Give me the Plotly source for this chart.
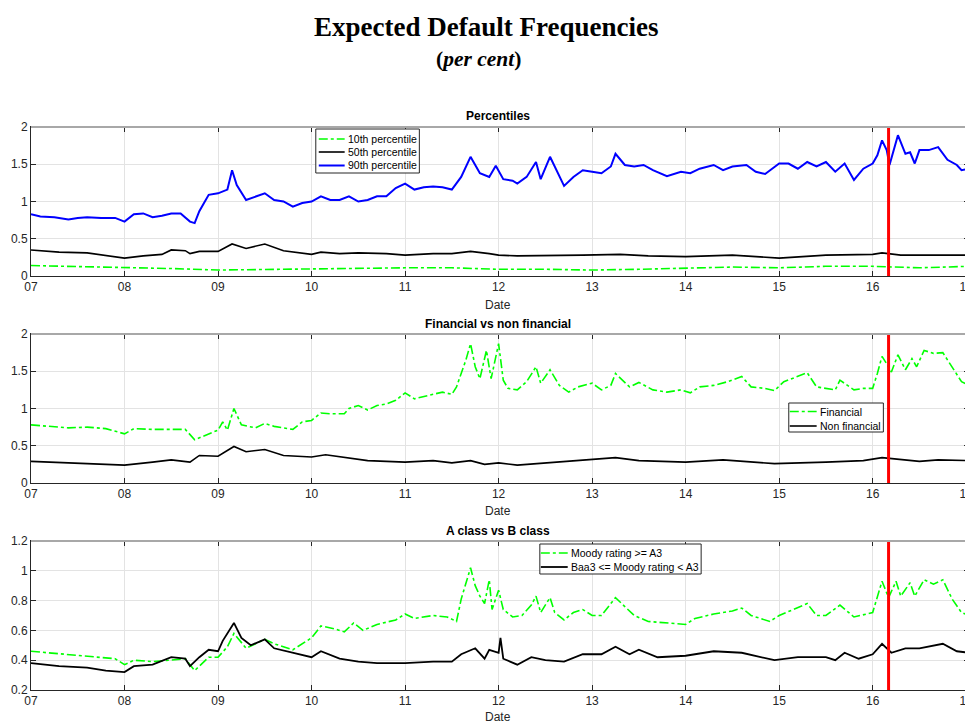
import plotly.graph_objects as go

# ---------------- data (decimal years, values in per cent) ----------------
YEAR_TICKS = [2007, 2008, 2009, 2010, 2011, 2012, 2013, 2014, 2015, 2016, 2017]
YEAR_LABELS = ["07", "08", "09", "10", "11", "12", "13", "14", "15", "16", "17"]
EVENT_DATE = 2016.17

p90_x = [2007.0, 2007.1, 2007.25, 2007.4, 2007.5, 2007.6, 2007.75, 2007.9, 2008.0, 2008.1,
         2008.2, 2008.3, 2008.4, 2008.5, 2008.6, 2008.7, 2008.75, 2008.8, 2008.85, 2008.9,
         2009.0, 2009.1, 2009.15, 2009.2, 2009.3, 2009.4, 2009.5, 2009.6, 2009.7, 2009.8,
         2009.9, 2010.0, 2010.1, 2010.2, 2010.3, 2010.4, 2010.5, 2010.6, 2010.7, 2010.8,
         2010.9, 2011.0, 2011.1, 2011.2, 2011.3, 2011.4, 2011.5, 2011.6, 2011.7, 2011.75,
         2011.8, 2011.9, 2011.97, 2012.05, 2012.15, 2012.2, 2012.3, 2012.4, 2012.45, 2012.55,
         2012.65, 2012.7, 2012.8, 2012.9, 2013.0, 2013.1, 2013.2, 2013.25, 2013.35, 2013.45,
         2013.55, 2013.65, 2013.8, 2013.95, 2014.05, 2014.15, 2014.3, 2014.4, 2014.5, 2014.65,
         2014.75, 2014.85, 2015.0, 2015.1, 2015.2, 2015.3, 2015.4, 2015.5, 2015.6, 2015.7,
         2015.8, 2015.9, 2016.0, 2016.05, 2016.1, 2016.15, 2016.18, 2016.22, 2016.27, 2016.35,
         2016.4, 2016.45, 2016.5, 2016.6, 2016.7, 2016.8, 2016.9, 2016.95, 2017.03]
p90_y = [0.83, 0.80, 0.79, 0.76, 0.78, 0.79, 0.78, 0.78, 0.73, 0.83,
         0.84, 0.79, 0.81, 0.84, 0.84, 0.73, 0.71, 0.87, 0.98, 1.09,
         1.11, 1.16, 1.42, 1.22, 1.02, 1.07, 1.11, 1.02, 1.00, 0.93,
         0.98, 1.00, 1.07, 1.02, 1.02, 1.07, 1.00, 1.02, 1.07, 1.07,
         1.18, 1.24, 1.16, 1.19, 1.20, 1.19, 1.16, 1.33, 1.60, 1.49,
         1.38, 1.33, 1.48, 1.30, 1.28, 1.24, 1.33, 1.53, 1.30, 1.60,
         1.33, 1.21, 1.33, 1.42, 1.40, 1.38, 1.47, 1.64, 1.49, 1.47,
         1.49, 1.42, 1.34, 1.40, 1.38, 1.44, 1.49, 1.42, 1.47, 1.49,
         1.40, 1.37, 1.51, 1.51, 1.44, 1.53, 1.47, 1.53, 1.40, 1.51,
         1.29, 1.44, 1.51, 1.62, 1.82, 1.69, 1.49, 1.66, 1.89, 1.64,
         1.66, 1.51, 1.69, 1.69, 1.73, 1.56, 1.49, 1.42, 1.44]

p50_x = [2007.0, 2007.3, 2007.6, 2007.8, 2008.0, 2008.2, 2008.4, 2008.5, 2008.65, 2008.7,
         2008.8, 2009.0, 2009.15, 2009.3, 2009.5, 2009.7, 2009.9, 2010.0, 2010.1, 2010.3,
         2010.5, 2010.8, 2011.0, 2011.3, 2011.5, 2011.7, 2011.9, 2012.0, 2012.2, 2012.5,
         2012.9, 2013.3, 2013.6, 2014.0, 2014.5, 2015.0, 2015.5, 2016.0, 2016.1, 2016.3,
         2016.6, 2016.8, 2017.03]
p50_y = [0.35, 0.32, 0.31, 0.28, 0.24, 0.27, 0.29, 0.35, 0.34, 0.30,
         0.33, 0.33, 0.43, 0.37, 0.43, 0.34, 0.30, 0.29, 0.32, 0.30,
         0.31, 0.30, 0.28, 0.30, 0.30, 0.33, 0.30, 0.28, 0.27, 0.27,
         0.28, 0.29, 0.27, 0.26, 0.28, 0.24, 0.28, 0.29, 0.31, 0.28,
         0.28, 0.29, 0.28]

p10_x = [2007.0, 2007.5, 2008.0, 2008.5, 2009.0, 2009.5, 2010.0, 2010.5, 2011.0, 2011.5,
         2012.0, 2012.5, 2013.0, 2013.5, 2014.0, 2014.5, 2015.0, 2015.5, 2016.0, 2016.5,
         2017.03]
p10_y = [0.14, 0.13, 0.11, 0.10, 0.08, 0.09, 0.09, 0.10, 0.11, 0.11,
         0.09, 0.09, 0.08, 0.09, 0.10, 0.12, 0.11, 0.13, 0.13, 0.11,
         0.13]

fin_x = [2007.0, 2007.2, 2007.4, 2007.6, 2007.8, 2008.0, 2008.1, 2008.3, 2008.5, 2008.65,
         2008.75, 2008.9, 2009.0, 2009.05, 2009.1, 2009.17, 2009.25, 2009.4, 2009.5, 2009.6,
         2009.8, 2009.9, 2010.0, 2010.1, 2010.2, 2010.35, 2010.4, 2010.5, 2010.6, 2010.7,
         2010.8, 2010.9, 2011.0, 2011.1, 2011.2, 2011.3, 2011.4, 2011.5, 2011.55, 2011.65,
         2011.7, 2011.75, 2011.8, 2011.87, 2011.92, 2012.0, 2012.05, 2012.1, 2012.2, 2012.3,
         2012.4, 2012.45, 2012.55, 2012.65, 2012.75, 2012.85, 2013.0, 2013.1, 2013.2, 2013.25,
         2013.4, 2013.5, 2013.65, 2013.8, 2013.95, 2014.05, 2014.15, 2014.3, 2014.45, 2014.6,
         2014.7, 2014.85, 2014.95, 2015.05, 2015.2, 2015.3, 2015.4, 2015.5, 2015.6, 2015.65,
         2015.8, 2015.9, 2016.0, 2016.05, 2016.1, 2016.15, 2016.2, 2016.27, 2016.35, 2016.42,
         2016.47, 2016.55, 2016.65, 2016.75, 2016.85, 2016.95, 2017.03]
fin_y = [0.78, 0.76, 0.74, 0.75, 0.73, 0.66, 0.73, 0.72, 0.72, 0.72,
         0.58, 0.66, 0.71, 0.82, 0.71, 1.00, 0.78, 0.74, 0.80, 0.76,
         0.72, 0.82, 0.84, 0.94, 0.93, 0.93, 1.00, 1.04, 0.98, 1.04,
         1.06, 1.11, 1.21, 1.13, 1.16, 1.18, 1.22, 1.19, 1.29, 1.65,
         1.87, 1.56, 1.40, 1.78, 1.40, 1.87, 1.38, 1.27, 1.25, 1.36,
         1.56, 1.34, 1.52, 1.31, 1.22, 1.29, 1.34, 1.25, 1.31, 1.47,
         1.29, 1.35, 1.25, 1.22, 1.25, 1.21, 1.29, 1.31, 1.36, 1.43,
         1.29, 1.27, 1.24, 1.36, 1.43, 1.48, 1.29, 1.27, 1.25, 1.38,
         1.25, 1.27, 1.27, 1.47, 1.70, 1.60, 1.49, 1.72, 1.52, 1.67,
         1.56, 1.78, 1.74, 1.75, 1.56, 1.36, 1.31]

nonfin_x = [2007.0, 2007.5, 2008.0, 2008.3, 2008.5, 2008.7, 2008.8, 2009.0, 2009.1, 2009.17,
            2009.3, 2009.5, 2009.7, 2010.0, 2010.15, 2010.4, 2010.6, 2011.0, 2011.3, 2011.5,
            2011.7, 2011.85, 2012.0, 2012.2, 2012.5, 2012.9, 2013.25, 2013.5, 2014.0, 2014.4,
            2014.95, 2015.5, 2015.9, 2016.1, 2016.5, 2016.7, 2017.03]
nonfin_y = [0.29, 0.26, 0.24, 0.28, 0.31, 0.28, 0.37, 0.36, 0.44, 0.49,
            0.42, 0.45, 0.37, 0.35, 0.38, 0.34, 0.30, 0.28, 0.30, 0.27,
            0.30, 0.25, 0.27, 0.24, 0.27, 0.30, 0.34, 0.30, 0.28, 0.31,
            0.26, 0.28, 0.30, 0.34, 0.29, 0.31, 0.30]

acls_x = [2007.0, 2007.2, 2007.4, 2007.7, 2007.9, 2008.0, 2008.1, 2008.3, 2008.5, 2008.65,
          2008.75, 2008.9, 2009.0, 2009.1, 2009.17, 2009.3, 2009.5, 2009.6, 2009.8, 2009.9,
          2010.0, 2010.1, 2010.25, 2010.35, 2010.45, 2010.55, 2010.7, 2010.9, 2011.0, 2011.1,
          2011.3, 2011.45, 2011.55, 2011.6, 2011.7, 2011.75, 2011.8, 2011.85, 2011.9, 2011.93,
          2012.0, 2012.05, 2012.15, 2012.25, 2012.35, 2012.4, 2012.45, 2012.55, 2012.6, 2012.7,
          2012.8, 2012.9, 2013.0, 2013.1, 2013.25, 2013.35, 2013.45, 2013.6, 2013.8, 2014.0,
          2014.1, 2014.3, 2014.5, 2014.6, 2014.7, 2014.9, 2015.0, 2015.2, 2015.3, 2015.4,
          2015.5, 2015.65, 2015.8, 2016.0, 2016.1, 2016.17, 2016.25, 2016.3, 2016.4, 2016.45,
          2016.55, 2016.65, 2016.75, 2016.85, 2016.95, 2017.03]
acls_y = [0.46, 0.45, 0.44, 0.42, 0.41, 0.37, 0.40, 0.39, 0.40, 0.41,
          0.33, 0.42, 0.42, 0.49, 0.58, 0.48, 0.54, 0.51, 0.47, 0.51,
          0.55, 0.63, 0.61, 0.59, 0.65, 0.60, 0.64, 0.67, 0.71, 0.68,
          0.70, 0.69, 0.66, 0.81, 1.02, 0.90, 0.83, 0.78, 0.94, 0.74,
          0.87, 0.74, 0.69, 0.70, 0.77, 0.83, 0.72, 0.82, 0.72, 0.67,
          0.72, 0.74, 0.70, 0.70, 0.82, 0.76, 0.70, 0.66, 0.65, 0.64,
          0.68, 0.71, 0.73, 0.75, 0.70, 0.66, 0.70, 0.75, 0.78, 0.70,
          0.70, 0.77, 0.69, 0.72, 0.93, 0.82, 0.93, 0.83, 0.92, 0.83,
          0.94, 0.91, 0.94, 0.81, 0.72, 0.70]

bcls_x = [2007.0, 2007.3, 2007.6, 2007.8, 2008.0, 2008.1, 2008.3, 2008.5, 2008.65, 2008.7,
          2008.8, 2008.9, 2009.0, 2009.05, 2009.17, 2009.25, 2009.35, 2009.5, 2009.6, 2009.8,
          2010.0, 2010.1, 2010.3, 2010.5, 2010.7, 2011.0, 2011.3, 2011.5, 2011.6, 2011.75,
          2011.85, 2011.9, 2012.0, 2012.02, 2012.05, 2012.2, 2012.35, 2012.5, 2012.7, 2012.9,
          2013.1, 2013.25, 2013.4, 2013.5, 2013.7, 2014.0, 2014.3, 2014.6, 2014.8, 2014.95,
          2015.2, 2015.5, 2015.6, 2015.7, 2015.85, 2016.0, 2016.1, 2016.2, 2016.35, 2016.5,
          2016.75, 2016.9, 2017.03]
bcls_y = [0.38, 0.36, 0.35, 0.33, 0.32, 0.36, 0.37, 0.42, 0.41, 0.36,
          0.42, 0.47, 0.46, 0.53, 0.65, 0.55, 0.50, 0.54, 0.48, 0.45,
          0.42, 0.46, 0.41, 0.39, 0.38, 0.38, 0.39, 0.39, 0.44, 0.48,
          0.41, 0.47, 0.45, 0.55, 0.41, 0.37, 0.42, 0.40, 0.39, 0.44,
          0.44, 0.49, 0.44, 0.47, 0.42, 0.43, 0.46, 0.45, 0.42, 0.40,
          0.42, 0.42, 0.40, 0.45, 0.41, 0.44, 0.51, 0.45, 0.48, 0.48,
          0.51, 0.46, 0.45]

# ---------------- figure geometry (page pixels; body has an 8px margin) ----------------
OFF = 8
W, H = 973 - OFF, 723 - OFF
PAGE_LEFT, PAGE_RIGHT, PAGE_TOP, PAGE_BOTTOM = 31, 973, 127, 690
ML = PAGE_LEFT - OFF
MR = 0
MT = PAGE_TOP - OFF
MB = H - (PAGE_BOTTOM - OFF)
PH = PAGE_BOTTOM - PAGE_TOP
PW = PAGE_RIGHT - PAGE_LEFT


def py(pix):
    return (PAGE_BOTTOM - pix) / PH


def px(pix):
    return (pix - PAGE_LEFT) / PW


GREEN = "#00ff00"
BLUE = "#0000ff"
BLACK = "#000000"
FONT = "Liberation Sans, Arial, sans-serif"
TXT = "#262626"

fig = go.Figure()

series = [
    (p10_x, p10_y, "10th percentile", GREEN, "dashdot", 1.6, "x", "y"),
    (p50_x, p50_y, "50th percentile", BLACK, "solid", 1.6, "x", "y"),
    (p90_x, p90_y, "90th percentile", BLUE, "solid", 2.0, "x", "y"),
    (fin_x, fin_y, "Financial", GREEN, "dashdot", 1.6, "x2", "y2"),
    (nonfin_x, nonfin_y, "Non financial", BLACK, "solid", 1.6, "x2", "y2"),
    (acls_x, acls_y, "Moody rating >= A3", GREEN, "dashdot", 1.6, "x3", "y3"),
    (bcls_x, bcls_y, "Baa3 <= Moody rating < A3", BLACK, "solid", 1.8, "x3", "y3"),
]
for xs, ys, name, col, dash, w, xa, ya in series:
    fig.add_trace(go.Scatter(x=xs, y=ys, name=name, mode="lines",
                             line=dict(color=col, dash=dash, width=w),
                             xaxis=xa, yaxis=ya, showlegend=False))

domains = [(py(276), py(127)), (py(483), py(334)), (py(690), py(541))]
yranges = [[0, 2], [0, 2], [0.2, 1.2]]
ydticks = [0.5, 0.5, 0.2]

axis_common = dict(showline=True, linecolor=TXT, linewidth=1, mirror="ticks",
                   ticks="inside", ticklen=5, tickcolor=TXT,
                   showgrid=True, gridcolor="#e3e3e3", gridwidth=1,
                   zeroline=False, tickfont=dict(family=FONT, size=12, color=TXT))

layout = dict(width=W, height=H, margin=dict(l=ML, r=MR, t=MT, b=MB, pad=0),
              paper_bgcolor="white", plot_bgcolor="white", showlegend=False)

for i in range(3):
    sx = "" if i == 0 else str(i + 1)
    layout["xaxis" + sx] = dict(axis_common, domain=[0, 1], range=[2007, 2017.03],
                                tickvals=YEAR_TICKS, ticktext=YEAR_LABELS,
                                ticklabeloverflow="allow", anchor="y" + sx)
    layout["yaxis" + sx] = dict(axis_common, domain=list(domains[i]), range=yranges[i],
                                dtick=ydticks[i], tick0=0, anchor="x" + sx)

fig.update_layout(**layout)

# red event line and light top border for each panel
for i in range(3):
    sx = "" if i == 0 else str(i + 1)
    fig.add_shape(type="line", xref="x" + sx, yref="y" + sx + " domain",
                  x0=EVENT_DATE, x1=EVENT_DATE, y0=0, y1=1,
                  line=dict(color="#ff0000", width=3))
    fig.add_shape(type="line", xref="x" + sx + " domain", yref="y" + sx + " domain",
                  x0=0, x1=1, y0=1, y1=1, line=dict(color="#a8a8a8", width=2))

ann = []

# legends drawn as boxed keys (page-pixel boxes, rows)
legend_boxes = [
    ((317, 421, 129, 173), 320, 346, [139, 152, 165.5], [0, 1, 2]),
    ((792, 887, 403, 432), 793, 820, [411.5, 426], [3, 4]),
    ((542, 704, 544, 574), 543, 570, [553, 567], [5, 6]),
]
for (bx0, bx1, by0, by1), lx0, lx1, rows, idxs in legend_boxes:
    fig.add_shape(type="rect", xref="paper", yref="paper",
                  x0=px(bx0), x1=px(bx1), y0=py(by1), y1=py(by0),
                  fillcolor="white", line=dict(color=TXT, width=1))
    for ry, k in zip(rows, idxs):
        _, _, name, col, dash, w, _, _ = series[k]
        fig.add_shape(type="line", xref="paper", yref="paper",
                      x0=px(lx0), x1=px(lx1), y0=py(ry), y1=py(ry),
                      line=dict(color=col, dash=dash, width=w))
        ann.append(dict(text=name, x=px(lx1 + 1), y=py(ry), xanchor="left",
                        font=dict(family=FONT, size=10.5, color=BLACK)))

ann.append(dict(text="<b>Expected Default Frequencies</b>", x=px(488), y=py(27),
                font=dict(family="Liberation Serif, serif", size=27, color=BLACK)))
ann.append(dict(text="<b>(<i>per cent</i>)</b>", x=px(480), y=py(59),
                font=dict(family="Liberation Serif, serif", size=21.5, color=BLACK)))
for title, ypix in [("Percentiles", 116), ("Financial vs non financial", 324),
                    ("A class vs B class", 531)]:
    ann.append(dict(text="<b>" + title + "</b>", x=px(500), y=py(ypix),
                    font=dict(family=FONT, size=12, color=BLACK)))
for ypix in [305, 511, 717]:
    ann.append(dict(text="Date", x=px(500), y=py(ypix),
                    font=dict(family=FONT, size=12, color=TXT)))
for a in ann:
    a.setdefault("xanchor", "center")
    a.update(xref="paper", yref="paper", showarrow=False, yanchor="middle")
fig.update_layout(annotations=ann)

fig.write_html("out.html")
